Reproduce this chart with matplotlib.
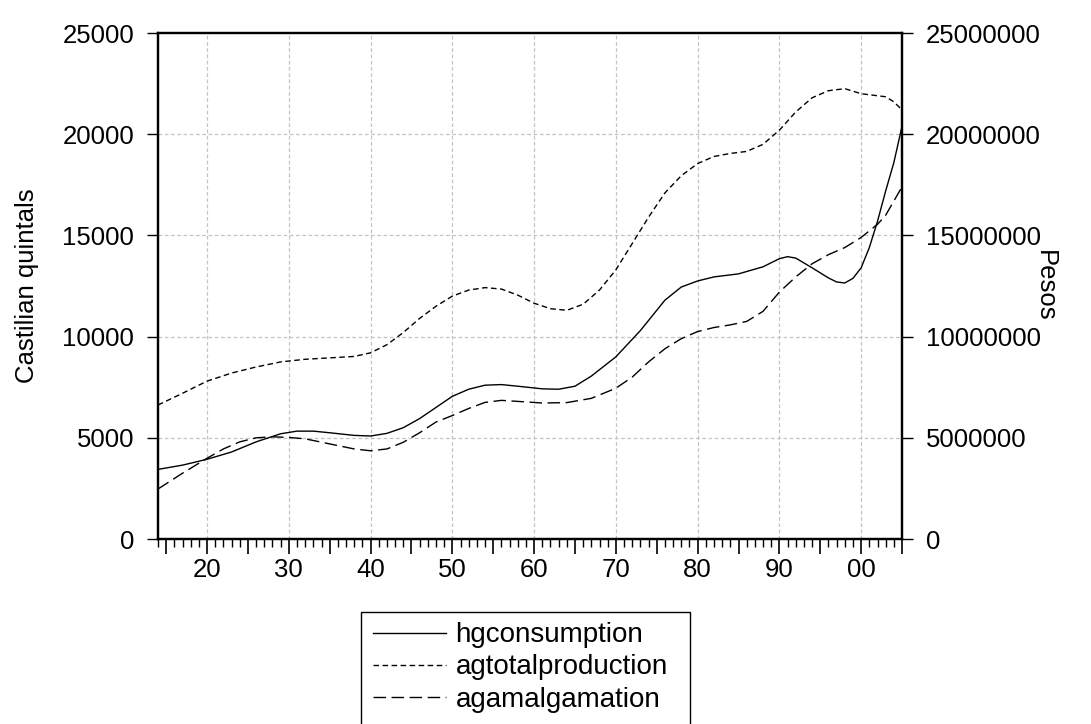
import matplotlib
matplotlib.use("Agg")
import matplotlib.pyplot as plt
from matplotlib.patches import Rectangle
from matplotlib.ticker import MultipleLocator, FuncFormatter

plt.rcParams['font.family'] = ['Liberation Sans', 'DejaVu Sans']

# values
# Castilian quintals (left axis)
hg_years = [1714, 1717, 1720, 1723, 1726, 1729, 1731, 1733, 1735, 1738,
            1740, 1742, 1744, 1746, 1748, 1750, 1752, 1754, 1756, 1758,
            1761, 1763, 1765, 1767, 1770, 1773, 1776, 1778, 1780, 1782,
            1785, 1788, 1790, 1791, 1792, 1794, 1796, 1797, 1798, 1799,
            1800, 1801, 1802, 1803, 1804, 1805]
hgconsumption = [3440, 3650, 3940, 4300, 4800, 5200, 5330, 5330, 5250, 5120,
                 5090, 5220, 5500, 5950, 6500, 7050, 7400, 7600, 7630, 7550,
                 7420, 7400, 7550, 8050, 9000, 10300, 11800, 12450, 12750, 12950,
                 13100, 13450, 13850, 13950, 13880, 13400, 12900, 12700, 12650, 12880,
                 13400, 14400, 15700, 17200, 18600, 20400]

# pesos (right axis)
agtot_years = [1714, 1717, 1720, 1723, 1726, 1729, 1732, 1735, 1738, 1740,
               1742, 1744, 1746, 1748, 1750, 1752, 1754, 1756, 1758, 1760,
               1762, 1764, 1766, 1768, 1770, 1772, 1774, 1776, 1778, 1780,
               1782, 1784, 1786, 1788, 1790, 1792, 1794, 1796, 1798, 1800,
               1802, 1803, 1804, 1805]
agtotalproduction = [6620000, 7200000, 7800000, 8200000, 8500000, 8750000, 8880000, 8950000, 9020000, 9200000,
                     9600000, 10200000, 10900000, 11500000, 12000000, 12300000, 12420000, 12350000, 12050000, 11650000,
                     11380000, 11300000, 11600000, 12300000, 13300000, 14600000, 15900000, 17100000, 17950000, 18550000,
                     18900000, 19050000, 19150000, 19500000, 20200000, 21100000, 21800000, 22150000, 22250000, 22000000,
                     21900000, 21850000, 21600000, 21200000]

agam_years = [1714, 1717, 1720, 1722, 1724, 1726, 1728, 1730, 1732, 1735,
              1738, 1740, 1742, 1744, 1746, 1748, 1750, 1752, 1754, 1756,
              1758, 1761, 1764, 1767, 1770, 1772, 1774, 1776, 1778, 1780,
              1782, 1784, 1786, 1788, 1790, 1792, 1794, 1796, 1798, 1800,
              1802, 1803, 1804, 1805]
agamalgamation = [2470000, 3250000, 3990000, 4450000, 4800000, 5000000, 5050000, 5020000, 4950000, 4700000,
                  4450000, 4360000, 4450000, 4780000, 5250000, 5780000, 6100000, 6450000, 6750000, 6850000,
                  6800000, 6720000, 6740000, 6950000, 7450000, 8000000, 8750000, 9400000, 9900000, 10250000,
                  10450000, 10580000, 10750000, 11250000, 12200000, 12950000, 13600000, 14050000, 14400000, 14900000,
                  15550000, 16000000, 16700000, 17400000]

left_ticks = [0, 5000, 10000, 15000, 20000, 25000]
right_ticks = [0, 5000000, 10000000, 15000000, 20000000, 25000000]
grid_years = [1720, 1730, 1740, 1750, 1760, 1770, 1780, 1790, 1800]

W, H = 1091, 724
fig = plt.figure(figsize=(W / 100, H / 100), dpi=100)
ax = fig.add_axes([0.1448, 0.2555, 0.6820, 0.6989])
ax2 = ax.twinx()

l1, = ax.plot(hg_years, hgconsumption, color='black', lw=1.0, ls='-')
l2, = ax2.plot(agtot_years, agtotalproduction, color='black', lw=1.0, ls=(0, (4, 2.5)))
l3, = ax2.plot(agam_years, agamalgamation, color='black', lw=1.0, ls=(0, (9, 4)))

ax.set_xlim(1714, 1805)
ax.set_ylim(0, 25000)
ax2.set_ylim(0, 25000000)
ax.set_yticks(left_ticks)
ax2.set_yticks(right_ticks)
ax.set_yticklabels([str(v) for v in left_ticks])
ax2.set_yticklabels([str(v) for v in right_ticks])

# grid
for v in left_ticks[1:-1]:
    ax.axhline(v, color='#c4c4c4', lw=0.9, ls=(0, (3, 2)), zorder=0)
for yr in grid_years:
    ax.axvline(yr, color='#c4c4c4', lw=0.9, ls=(0, (3, 2)), zorder=0)

ax.xaxis.set_major_locator(MultipleLocator(5))
ax.xaxis.set_minor_locator(MultipleLocator(1))
ax.xaxis.set_major_formatter(FuncFormatter(
    lambda x, p: f"{int(round(x)) % 100:02d}" if int(round(x)) % 10 == 0 else ""))
ax.tick_params(axis='x', which='major', direction='out', length=11, width=1.2,
               labelsize=18.5, pad=3)
ax.tick_params(axis='x', which='minor', direction='out', length=6, width=1.0)
ax.tick_params(axis='y', direction='out', length=8, width=1.0, labelsize=18.5, pad=9)
ax2.tick_params(axis='y', direction='out', length=8, width=1.0, labelsize=18.5, pad=9)

for a in (ax, ax2):
    for s in a.spines.values():
        s.set_linewidth(1.6)
        s.set_color('black')

ax.set_ylabel('Castilian quintals', fontsize=18.5, labelpad=17)
ax2.set_ylabel('Pesos', fontsize=18.5, rotation=-90, labelpad=12)

# legend without its own frame, box drawn separately (runs off the bottom edge)
leg = fig.legend([l1, l2, l3], ['hgconsumption', 'agtotalproduction', 'agamalgamation'],
                 loc='upper left', bbox_to_anchor=(364.5 / W, 1 - 614 / H),
                 fontsize=20, frameon=False, handlelength=2.65,
                 handletextpad=0.33, labelspacing=0.22, borderpad=0.3,
                 borderaxespad=0)
fig.add_artist(Rectangle((361 / W, -0.05), (690 - 361) / W, 0.05 + 1 - 612 / H,
                         transform=fig.transFigure, fill=False,
                         edgecolor='black', lw=1.0, clip_on=False))

fig.savefig('out.png', dpi=100)
